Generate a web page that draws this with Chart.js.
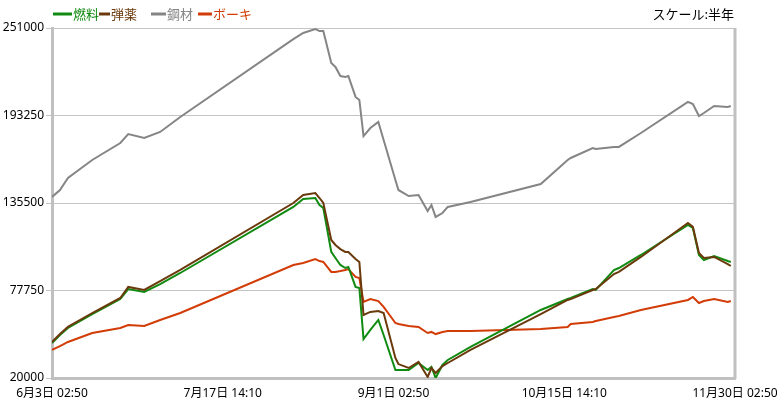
<!DOCTYPE html>
<html lang="ja">
<head>
<meta charset="utf-8">
<script src="https://cdn.jsdelivr.net/npm/chart.js@4/dist/chart.umd.min.js"></script>
<style>
html, body { margin: 0; padding: 0; background: #fff; }
</style>
</head>
<body>
<canvas id="grafico" width="777" height="407"></canvas>
<script>
// 1. Datos (días desde 6月3日 02:50)
const tiempos = [0, 2.1, 4.2, 10.6, 18.0, 20.1, 24.3, 28.5, 33.8, 63.6, 66.2, 69.4, 70.5, 71.5,
  73.6, 74.7, 76.0, 77.3, 78.1, 80.0, 81.0, 82.1, 83.9, 86.0, 87.4, 90.5, 91.3, 94.0, 96.6,
  99.0, 100.0, 101.1, 102.9, 104.3, 110.3, 128.8, 135.9, 136.7, 142.5, 143.3, 148.1, 149.4,
  155.2, 167.6, 168.9, 170.5, 171.8, 174.5, 178.1, 178.9];

const nenryo = [43100, 48400, 53000, 62200, 72100, 78700, 76800, 82000, 89300, 132900, 138100,
  138800, 134200, 132200, 103200, 99200, 94600, 92600, 93300, 80100, 79400, 45700, 51700, 58300,
  48400, 25300, 25300, 25300, 29900, 25300, 27300, 20000, 28600, 31900, 40500, 64900, 72100,
  72800, 78700, 78100, 91300, 92600, 101200, 121000, 119000, 101200, 97900, 100500, 97200, 96600];

const danyaku = [43800, 49000, 53700, 62900, 72800, 80100, 78100, 84000, 91300, 135500, 140800,
  142100, 138800, 135500, 111100, 107800, 105100, 103200, 103200, 98500, 96600, 61600, 63600,
  64200, 62900, 33200, 29200, 26600, 30600, 20700, 26600, 23300, 27900, 29900, 38500, 62200,
  71500, 72100, 78100, 78700, 88600, 90000, 99900, 122300, 119700, 102500, 99200, 99900, 95200, 93900];

const kouzai = [139500, 144100, 152000, 163900, 175100, 181000, 178400, 182400, 192300, 243700,
  247700, 250300, 249000, 249000, 227900, 225300, 219300, 218700, 219300, 205500, 203500, 179700,
  185000, 189000, 177100, 150700, 144100, 140100, 140800, 130200, 134200, 126300, 128900, 132900,
  136200, 148000, 163900, 165200, 171800, 171100, 172500, 172500, 181700, 202200, 200800, 192900,
  194900, 199500, 198900, 199500];

const bauxite = [38500, 41100, 43800, 49700, 53000, 55000, 54300, 58300, 62900, 94600, 95900,
  98500, 97200, 96600, 90000, 90000, 90600, 91300, 91900, 86700, 86000, 70200, 72100, 70800,
  66900, 56300, 55600, 54300, 53700, 49700, 50400, 49000, 50400, 51000, 51000, 52300, 53700,
  55600, 57000, 57600, 60300, 60900, 64900, 71500, 73500, 69500, 70800, 72100, 70200, 70800];

const etiquetasX = ['6月3日 02:50', '7月17日 14:10', '9月1日 02:50', '10月15日 14:10', '11月30日 02:50'];
const posicionesX = [0, 45, 90, 135, 180];
const ticksY = [20000, 77750, 135500, 193250, 251000];

const nombres = ['燃料', '弾薬', '鋼材', 'ボーキ'];
const colores = ['#108a10', '#6b3a0c', '#858585', '#d23c06'];

const FUENTE = "'Noto Sans', 'Noto Sans CJK JP', sans-serif";

function puntos(valores) {
  return valores.map((v, i) => ({ x: tiempos[i], y: v }));
}

// 2. Leyenda y texto de escala dibujados a mano
const leyendaPropia = {
  id: 'leyendaPropia',
  afterDraw(chart) {
    const ctx = chart.ctx;
    const inicioLinea = [53, 99, 151, 198];
    const inicioTexto = [73, 111, 167, 213];
    ctx.save();
    ctx.font = "13px 'Noto Sans CJK JP', sans-serif";
    ctx.textBaseline = 'middle';
    nombres.forEach((n, i) => {
      ctx.strokeStyle = colores[i];
      ctx.lineWidth = 3;
      ctx.beginPath();
      ctx.moveTo(inicioLinea[i], 14);
      ctx.lineTo(inicioTexto[i] - 1, 14);
      ctx.stroke();
      ctx.fillStyle = colores[i];
      ctx.textAlign = 'left';
      ctx.fillText(n, inicioTexto[i], 14);
    });
    ctx.fillStyle = '#000';
    ctx.textAlign = 'right';
    ctx.fillText('スケール:半年', 734, 14);

    // borde derecho
    const area = chart.chartArea;
    ctx.strokeStyle = '#c0c0c0';
    ctx.lineWidth = 3;
    ctx.beginPath();
    ctx.moveTo(area.right, area.top);
    ctx.lineTo(area.right, area.bottom + 1);
    ctx.stroke();
    ctx.restore();
  }
};

const orden = [1, 0, 3, 2];

new Chart(document.getElementById('grafico'), {
  type: 'line',
  data: {
    datasets: [nenryo, danyaku, kouzai, bauxite].map((serie, i) => ({
      label: nombres[i],
      data: puntos(serie),
      borderColor: colores[i],
      backgroundColor: colores[i],
      borderWidth: 2,
      pointRadius: 0,
      tension: 0,
      fill: false,
      order: orden[i]
    }))
  },
  options: {
    responsive: false,
    animation: false,
    layout: { padding: { left: 0, right: 42, top: 28, bottom: 0 } },
    plugins: {
      legend: { display: false },
      tooltip: { enabled: false }
    },
    scales: {
      x: {
        type: 'linear',
        min: 0,
        max: 180,
        afterBuildTicks: (scale) => { scale.ticks = posicionesX.map(v => ({ value: v })); },
        afterFit: (scale) => {
          scale.height = 29;
          scale.paddingLeft = 0;
          scale.paddingRight = 0;
        },
        ticks: {
          autoSkip: false,
          maxRotation: 0,
          padding: 8,
          color: '#000',
          font: { family: FUENTE, size: 12 },
          callback: (v) => etiquetasX[posicionesX.indexOf(v)]
        },
        grid: { color: 'rgba(0,0,0,0)', drawTicks: false },
        border: { display: true, color: '#c0c0c0', width: 3 }
      },
      y: {
        min: 20000,
        max: 251000,
        afterBuildTicks: (scale) => { scale.ticks = ticksY.map(v => ({ value: v })); },
        afterFit: (scale) => {
          scale.width = 52;
          scale.paddingTop = 0;
          scale.paddingBottom = 0;
        },
        ticks: {
          padding: 2,
          color: '#000',
          font: { family: FUENTE, size: 12 },
          callback: (v) => String(v)
        },
        grid: { color: '#c4c4c4', lineWidth: 1, tickLength: 6 },
        border: { display: true, color: '#c0c0c0', width: 3 }
      }
    }
  },
  plugins: [leyendaPropia]
});
</script>
</body>
</html>
